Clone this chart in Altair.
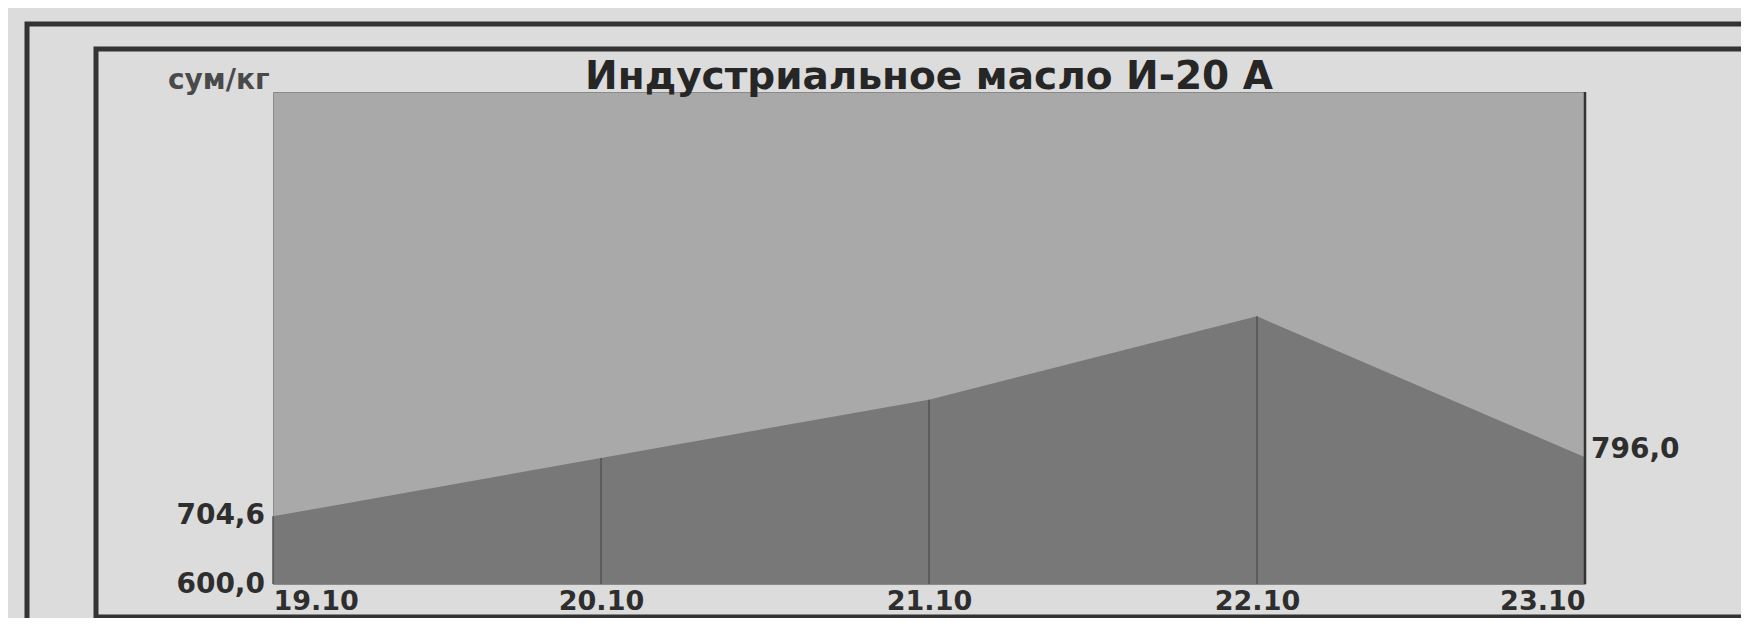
import altair as alt
import pandas as pd

# ---- data ----
dates = ["19.10", "20.10", "21.10", "22.10", "23.10"]
prices = [704.6, 795.0, 885.0, 1014.0, 796.0]
title_text = "Индустриальное масло И-20 А"
unit_text = "сум/кг"
y_min = 600.0
y_max = 1361.0

df = pd.DataFrame({"date": dates, "price": prices})
df["base"] = y_min

W, H = 1312, 492
FONT = "DejaVu Sans"

x_enc = alt.X(
    "date:N",
    sort=dates,
    scale=alt.Scale(type="point", padding=0),
    axis=alt.Axis(
        title=None, labelAngle=0, labelFlush=True, ticks=False, domain=False,
        grid=False, labelFont=FONT, labelFontSize=27, labelFontWeight="bold",
        labelColor="#2e2e2e", labelPadding=4,
    ),
)
y_scale = alt.Scale(domain=[y_min, y_max], nice=False, zero=False)
y_enc = alt.Y("price:Q", scale=y_scale, axis=None)

base = alt.Chart(df)

area = base.mark_area(color="#787878", opacity=1).encode(
    x=x_enc, y=y_enc, y2=alt.Y2("base:Q")
)

drops = base.mark_rule(color="#555555", strokeWidth=1.5).encode(
    x=alt.X("date:N", sort=dates),
    y=alt.Y("base:Q", scale=y_scale, axis=None),
    y2=alt.Y2("price:Q"),
)

right_edge = base.transform_filter(
    alt.datum.date == dates[-1]
).mark_rule(color="#333333", strokeWidth=2.5).encode(
    x=alt.X("date:N", sort=dates), y=alt.value(0), y2=alt.value(H)
)

fmt = "replace(format(datum.price, '.1f'), '.', ',')"
lab_style = dict(font=FONT, fontSize=28, fontWeight="bold", color="#2e2e2e")

first_lab = base.transform_filter(alt.datum.date == dates[0]).transform_calculate(
    lab=fmt
).mark_text(align="right", baseline="middle", dx=-8, **lab_style).encode(
    x=alt.X("date:N", sort=dates), y=y_enc, text="lab:N"
)

last_lab = base.transform_filter(alt.datum.date == dates[-1]).transform_calculate(
    lab=fmt
).mark_text(align="left", baseline="middle", dx=6, dy=-7, **lab_style).encode(
    x=alt.X("date:N", sort=dates), y=y_enc, text="lab:N"
)

min_lab = base.transform_filter(alt.datum.date == dates[0]).transform_calculate(
    lab="replace(format(datum.base, '.1f'), '.', ',')"
).mark_text(align="right", baseline="middle", dx=-8, dy=1, **lab_style).encode(
    x=alt.X("date:N", sort=dates),
    y=alt.Y("base:Q", scale=y_scale, axis=None),
    text="lab:N",
)

one = alt.Chart(pd.DataFrame({"t": [title_text], "u": [unit_text]}))

title = one.mark_text(
    font=FONT, fontSize=39, fontWeight="bold", color="#262626",
    align="center", baseline="middle",
).encode(x=alt.value(W / 2), y=alt.value(-15), text="t:N")

unit = one.mark_text(
    font=FONT, fontSize=28, fontWeight="bold", color="#4a4a4a",
    align="left", baseline="middle",
).encode(x=alt.value(-105), y=alt.value(-11), text="u:N")

outer = one.mark_rect(fillOpacity=0, stroke="#333333", strokeWidth=5).encode(
    x=alt.value(-246), x2=alt.value(1700), y=alt.value(-68), y2=alt.value(800)
)
inner = one.mark_rect(fillOpacity=0, stroke="#333333", strokeWidth=5).encode(
    x=alt.value(-177), x2=alt.value(1700), y=alt.value(-43), y2=alt.value(525)
)

chart = alt.layer(
    area, drops, right_edge, first_lab, last_lab, min_lab, title, unit, outer, inner
).properties(
    width=W,
    height=H,
    padding={"left": 265, "top": 84, "right": 156, "bottom": 34},
    autosize=alt.AutoSizeParams(type="none"),
).configure(
    background="#dcdcdc"
).configure_view(
    fill="#a9a9a9", stroke="#8a8a8a", strokeWidth=1
)

chart.save("out.html", embed_options={"renderer": "svg", "actions": False})
